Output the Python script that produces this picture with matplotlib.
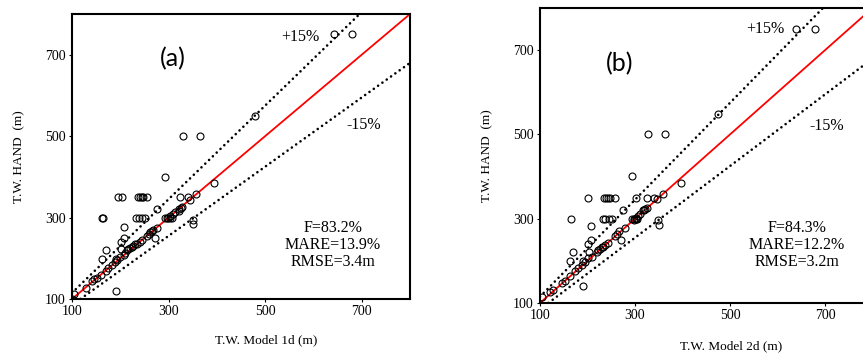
import numpy as np
import matplotlib
matplotlib.use("Agg")
import matplotlib.pyplot as plt

plt.rcParams["font.family"] = ["Liberation Serif", "DejaVu Serif"]

# panel (a): T.W. Model 1d vs T.W. HAND
model_1d = [642, 680, 478, 329, 366, 293, 395,
            196, 203, 236, 240, 245, 248, 256, 324, 341, 357,
            162, 165, 233, 239, 245, 252, 277, 293, 298, 303, 307, 314, 321, 326,
            350, 350, 207, 207, 202, 202, 171, 163, 191, 191, 272, 104, 130,
            100, 141, 146, 152, 160, 170, 175, 182, 189, 193, 200, 207, 210, 213,
            217, 220, 224, 227, 231, 234, 240, 245, 255, 259, 262, 266, 268, 276,
            297, 304, 310, 321, 328, 345]
hand_1d = [750, 750, 550, 500, 500, 400, 385,
           350, 350, 350, 350, 350, 350, 350, 350, 350, 358,
           300, 300, 300, 300, 300, 300, 320, 300, 300, 300, 300, 313, 320, 324,
           293, 283, 278, 250, 240, 222, 220, 199, 199, 120, 250, 112, 128,
           100, 145, 148, 152, 160, 169, 175, 183, 191, 195, 203, 207, 212, 220,
           224, 226, 228, 231, 234, 236, 240, 244, 255, 260, 264, 268, 270, 275,
           299, 305, 309, 317, 325, 343]

# panel (b): T.W. Model 2d vs T.W. HAND
model_2d = [640, 679, 475, 328, 363, 293, 396,
            202, 235, 239, 244, 247, 258, 302, 325, 341, 358,
            165, 232, 237, 246, 251, 275, 293, 298, 302, 305, 311, 318, 325,
            349, 351, 207, 207, 202, 203, 170, 163, 190, 190, 270, 105,
            121, 128, 146, 153, 163, 174, 181, 188, 195, 202, 209, 219, 223,
            226, 230, 233, 237, 244, 258, 263, 267, 279, 297, 302, 307, 316,
            321, 346]
hand_2d = [750, 750, 549, 501, 501, 402, 385,
           350, 350, 350, 350, 350, 350, 350, 350, 350, 359,
           300, 300, 300, 300, 300, 321, 300, 300, 300, 300, 311, 321, 325,
           296, 284, 282, 250, 241, 221, 221, 200, 200, 140, 250, 114,
           127, 131, 147, 153, 163, 175, 183, 190, 197, 206, 210, 222, 226,
           228, 232, 234, 238, 242, 258, 264, 270, 278, 298, 302, 306, 320,
           324, 346]

stats_a = "F=83.2%\nMARE=13.9%\nRMSE=3.4m"
stats_b = "F=84.3%\nMARE=12.2%\nRMSE=3.2m"

ticks = [100, 300, 500, 700]


def dibujar_panel(ax, x, y, letra, pos_letra, pos_stats, stats, xlabel, pos_mas, pos_menos):
    linea = np.array([100, 800])
    punteado = (0, (0.01, 2.0))
    ax.plot(linea, linea, color="red", lw=1.3, zorder=2)
    ax.plot(linea, linea * 1.15, color="black", ls=punteado, lw=1.9,
            dash_capstyle="round", zorder=2)
    ax.plot(linea, linea * 0.85, color="black", ls=punteado, lw=1.9,
            dash_capstyle="round", zorder=2)
    ax.plot(x, y, "o", mfc="none", mec="black", ms=5, mew=0.8, zorder=3)
    ax.set_xlim(100, 800)
    ax.set_ylim(100, 800)
    ax.set_xticks(ticks)
    ax.set_yticks(ticks)
    ax.tick_params(direction="out", length=2.5, width=0.8, labelsize=10, pad=2)
    for s in ax.spines.values():
        s.set_linewidth(1.5)
    ax.text(*pos_letra, letra, family="Lato", fontsize=18, ha="center", va="center")
    ax.text(*pos_mas, "+15%", fontsize=11.5, ha="center", va="center")
    ax.text(*pos_menos, "-15%", fontsize=11.5, ha="center", va="center")
    ax.text(*pos_stats, stats, fontsize=11.5, ha="center", va="center",
            multialignment="center", linespacing=1.1)
    ax.set_xlabel(xlabel, fontsize=9.5)
    ax.set_ylabel("T.W. HAND  (m)", fontsize=9.5)
    ax.xaxis.set_label_coords(0.574, -0.125)
    ax.yaxis.set_label_coords(-0.139, 0.5)


fig = plt.figure(figsize=(8.63, 3.54), dpi=100)
ax1 = fig.add_axes([0.0834, 0.1554, 0.3917, 0.805])
ax2 = fig.add_axes([0.6257, 0.144, 0.3853, 0.8333])

dibujar_panel(ax1, model_1d, hand_1d, "(a)", (308, 690), (640, 232), stats_a,
              "T.W. Model 1d (m)", (573, 744), (704, 527))
dibujar_panel(ax2, model_2d, hand_2d, "(b)", (268, 667), (641, 237), stats_b,
              "T.W. Model 2d (m)", (574, 750), (704, 521))

fig.savefig("out.png", dpi=100)
